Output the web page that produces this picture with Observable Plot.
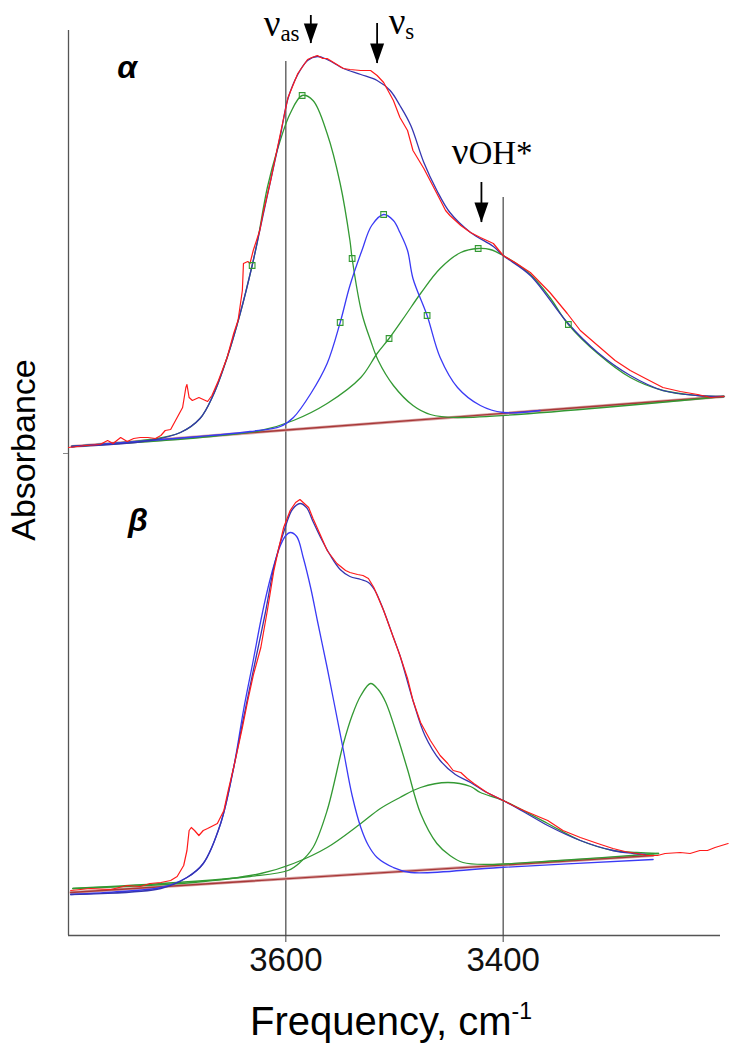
<!DOCTYPE html>
<html><head><meta charset="utf-8">
<script src="https://cdn.jsdelivr.net/npm/d3@7"></script>
<script src="https://cdn.jsdelivr.net/npm/@observablehq/plot@0.6"></script>
<style>body{margin:0;background:#fff}</style>
</head><body><div id="chart"></div>
<script>
// ---------- data: [frequency cm-1, absorbance (arb.)] ----------
const xTicks = [3600, 3400];
const yTicks = [4.82];
const refLines = [{f: 3600, bottom: 0, top: 8.74}, {f: 3400, bottom: 0, top: 7.38}];

// alpha panel
const alphaBaseline = [[3797, 4.89], [3197, 5.39]];
const alphaMeasured = [[3800,4.88],[3784,4.90],[3771,4.91],[3764,4.95],[3759,4.92],[3752,4.98],[3746,4.94],[3740,4.97],[3734,4.98],[3727,4.98],[3720,4.97],[3715,5.00],[3711,5.05],[3706,5.06],[3700,5.18],[3695,5.28],[3692,5.48],[3691,5.51],[3689,5.38],[3686,5.35],[3680,5.38],[3672,5.34],[3668,5.40],[3662,5.55],[3654,5.78],[3648,6.02],[3644,6.15],[3640,6.45],[3639,6.72],[3635,6.74],[3633,6.72],[3630,6.85],[3624,7.05],[3621,7.22],[3614,7.55],[3605,8.02],[3598,8.38],[3589,8.62],[3580,8.76],[3576,8.78],[3571,8.80],[3566,8.77],[3562,8.77],[3556,8.73],[3547,8.67],[3541,8.66],[3531,8.65],[3522,8.65],[3516,8.60],[3510,8.53],[3501,8.35],[3495,8.18],[3488,8.05],[3483,7.85],[3473,7.67],[3461,7.42],[3453,7.25],[3449,7.20],[3439,7.10],[3430,7.03],[3421,6.98],[3409,6.92],[3400,6.80],[3389,6.73],[3375,6.63],[3357,6.43],[3341,6.22],[3329,6.05],[3313,5.90],[3297,5.75],[3283,5.65],[3269,5.57],[3253,5.48],[3237,5.44],[3221,5.41],[3209,5.38],[3197,5.39]];
const alphaFit = [[3797,4.89],[3725,4.95],[3697,5.03],[3679,5.17],[3667,5.40],[3654,5.78],[3642,6.22],[3631,6.70],[3624,7.05],[3614,7.55],[3605,8.00],[3598,8.37],[3589,8.61],[3580,8.75],[3571,8.79],[3562,8.76],[3547,8.67],[3531,8.61],[3516,8.55],[3504,8.45],[3495,8.30],[3485,8.10],[3473,7.73],[3461,7.45],[3449,7.23],[3430,7.03],[3409,6.89],[3400,6.80],[3375,6.60],[3341,6.13],[3313,5.83],[3283,5.60],[3253,5.45],[3221,5.40],[3197,5.39]];
const alphaBand1 = [[3797,4.89],[3725,4.96],[3697,5.03],[3679,5.17],[3667,5.40],[3654,5.78],[3642,6.22],[3631,6.70],[3626,6.95],[3617,7.48],[3608,7.85],[3596,8.22],[3585,8.40],[3575,8.35],[3562,8.02],[3550,7.52],[3541,6.95],[3539,6.77],[3530,6.22],[3522,5.95],[3515,5.75],[3501,5.50],[3483,5.30],[3467,5.21],[3442,5.18],[3197,5.39]];
const alphaBand2 = [[3797,4.89],[3679,4.99],[3633,5.04],[3605,5.09],[3593,5.18],[3577,5.42],[3562,5.72],[3550,6.13],[3541,6.50],[3530,6.85],[3521,7.10],[3510,7.21],[3501,7.15],[3495,7.03],[3488,6.85],[3483,6.57],[3470,6.20],[3458,5.78],[3442,5.48],[3421,5.30],[3400,5.23],[3366,5.25]];
const alphaBand3 = [[3797,4.89],[3725,4.94],[3669,4.99],[3623,5.05],[3593,5.15],[3562,5.32],[3531,5.58],[3516,5.82],[3505,5.97],[3490,6.20],[3476,6.42],[3458,6.67],[3439,6.83],[3423,6.87],[3412,6.86],[3400,6.80],[3375,6.61],[3357,6.38],[3340,6.11],[3313,5.82],[3283,5.58],[3253,5.45],[3221,5.40],[3197,5.39]];
const alphaMarkers = [[3585,8.40],[3631,6.70],[3539,6.77],[3510,7.21],[3550,6.13],[3470,6.20],[3423,6.87],[3505,5.97],[3340,6.11]];

// beta panel
const betaBaseline = [[3798, 0.43], [3262, 0.80]];
const betaMeasured = [[3798,0.45],[3780,0.47],[3761,0.46],[3746,0.50],[3734,0.49],[3725,0.52],[3715,0.53],[3706,0.55],[3700,0.59],[3694,0.70],[3691,0.85],[3689,1.05],[3687,1.08],[3684,1.05],[3680,1.00],[3676,1.05],[3672,1.07],[3663,1.12],[3657,1.25],[3653,1.45],[3648,1.68],[3640,2.08],[3635,2.35],[3630,2.60],[3623,2.88],[3617,3.25],[3611,3.65],[3607,3.85],[3602,4.08],[3596,4.25],[3591,4.33],[3587,4.36],[3583,4.32],[3579,4.28],[3575,4.17],[3568,4.00],[3562,3.85],[3553,3.72],[3545,3.65],[3541,3.63],[3534,3.61],[3529,3.60],[3524,3.57],[3519,3.48],[3510,3.25],[3501,2.98],[3495,2.80],[3488,2.57],[3483,2.35],[3476,2.13],[3467,1.95],[3458,1.80],[3451,1.72],[3446,1.65],[3439,1.63],[3433,1.57],[3427,1.52],[3415,1.43],[3400,1.35],[3389,1.29],[3381,1.25],[3370,1.20],[3359,1.15],[3345,1.05],[3329,0.98],[3313,0.92],[3299,0.87],[3288,0.84],[3277,0.82],[3267,0.80],[3258,0.80],[3251,0.82],[3237,0.83],[3228,0.82],[3219,0.85],[3212,0.85],[3205,0.88],[3193,0.92]];
const betaFit = [[3798,0.41],[3715,0.47],[3691,0.58],[3676,0.72],[3660,1.12],[3648,1.68],[3639,2.17],[3628,2.75],[3619,3.22],[3610,3.73],[3600,4.10],[3594,4.26],[3587,4.32],[3581,4.28],[3575,4.14],[3568,3.98],[3559,3.80],[3550,3.66],[3541,3.59],[3531,3.56],[3524,3.53],[3518,3.45],[3510,3.25],[3501,2.98],[3495,2.80],[3483,2.35],[3472,2.00],[3458,1.75],[3444,1.61],[3430,1.53],[3415,1.43],[3400,1.35],[3380,1.23],[3359,1.10],[3329,0.95],[3299,0.85],[3280,0.82],[3269,0.81]];
const betaBand1 = [[3798,0.41],[3752,0.44],[3715,0.48],[3691,0.58],[3676,0.72],[3660,1.12],[3648,1.68],[3639,2.25],[3630,2.75],[3623,3.15],[3617,3.45],[3611,3.70],[3605,3.90],[3600,4.00],[3596,4.03],[3590,3.99],[3584,3.78],[3577,3.47],[3571,3.15],[3562,2.68],[3556,2.35],[3547,1.85],[3539,1.40],[3531,1.08],[3524,0.90],[3516,0.78],[3501,0.68],[3485,0.63],[3403,0.68],[3262,0.76]];
const betaBand2 = [[3796,0.47],[3700,0.53],[3633,0.59],[3598,0.65],[3587,0.73],[3575,0.88],[3562,1.25],[3547,1.92],[3539,2.20],[3531,2.40],[3522,2.52],[3515,2.46],[3508,2.33],[3497,1.98],[3488,1.66],[3476,1.22],[3461,0.92],[3449,0.80],[3437,0.73],[3415,0.71],[3348,0.75],[3257,0.82]];
const betaBand3 = [[3796,0.47],[3685,0.53],[3623,0.62],[3593,0.72],[3562,0.88],[3531,1.12],[3513,1.27],[3495,1.38],[3476,1.48],[3451,1.53],[3430,1.49],[3421,1.43],[3400,1.35],[3359,1.12],[3329,0.95],[3299,0.85],[3277,0.83],[3257,0.82]];

// annotations
const panelLabels = [{text: "α", f: 3746, a: 8.58}, {text: "β", f: 3736, a: 4.05}];
const nuLabels = [{text: "ν", f: 3605, a: 9.00}, {text: "ν", f: 3490, a: 9.02}, {text: "ν", f: 3432, a: 7.72}];
const nuSubs = [{text: "as", f: 3605, a: 8.95}, {text: "s", f: 3490, a: 8.97}];
const ohLabel = [{text: "OH*", f: 3432, a: 7.72}];
const arrows = [{f: 3577, top: 9.20, tip: 8.92}, {f: 3516, top: 9.12, tip: 8.72}, {f: 3420, top: 7.53, tip: 7.13}];

// ---------- drawing ----------
const RED = "#ff1a1a", FIT = "#3535b0", BLUE = "#3a3af5", GREEN = "#339933", BROWN = "#a83838";
const px = d => d[0], py = d => d[1];
const arrowHead = {draw(ctx) { ctx.moveTo(-7, -20); ctx.lineTo(7, -20); ctx.lineTo(0, 0); ctx.closePath(); }};
const smooth = "catmull-rom";
const serif = "Liberation Serif, Times New Roman, serif";

const chart = Plot.plot({
  width: 742, height: 1050,
  marginLeft: 68, marginRight: 22, marginTop: 30, marginBottom: 115,
  style: {fontFamily: "Liberation Sans, Arial, sans-serif", background: "#fff", color: "#111"},
  x: {domain: [3800, 3200]},
  y: {domain: [0, 9.05]},
  marks: [
    Plot.ruleX(refLines, {x: "f", y1: "bottom", y2: "top", stroke: "#444", strokeWidth: 1.2}),
    Plot.ruleX([3800], {stroke: "#555", strokeWidth: 1.3}),
    Plot.ruleY([0], {stroke: "#555", strokeWidth: 1.3}),
    Plot.axisX({ticks: xTicks, tickSize: 7, tickPadding: 5, fontSize: 33, label: null, tickFormat: d => `${d}`, stroke: "#444"}),
    Plot.axisY({ticks: yTicks, tickSize: 5, tickFormat: () => "", label: null, stroke: "#888"}),
    // baselines
    Plot.line(alphaBaseline, {x: px, y: py, stroke: "#d9a5a5", strokeWidth: 3}),
    Plot.line(alphaBaseline, {x: px, y: py, stroke: BROWN, strokeWidth: 1.4}),
    Plot.line(betaBaseline, {x: px, y: py, stroke: "#d9a5a5", strokeWidth: 3}),
    Plot.line(betaBaseline, {x: px, y: py, stroke: BROWN, strokeWidth: 1.4}),
    // alpha components
    Plot.line(alphaBand1, {x: px, y: py, stroke: GREEN, strokeWidth: 1.3, curve: smooth}),
    Plot.line(alphaBand3, {x: px, y: py, stroke: GREEN, strokeWidth: 1.3, curve: smooth}),
    Plot.line(alphaBand2, {x: px, y: py, stroke: BLUE, strokeWidth: 1.3, curve: smooth}),
    Plot.line(alphaFit, {x: px, y: py, stroke: FIT, strokeWidth: 1.3, curve: smooth}),
    Plot.line(alphaMeasured, {x: px, y: py, stroke: RED, strokeWidth: 1.2}),
    Plot.dot(alphaMarkers, {x: px, y: py, symbol: "square", r: 3.2, stroke: GREEN, fill: "none", strokeWidth: 1.1}),
    // beta components
    Plot.line(betaBand2, {x: px, y: py, stroke: GREEN, strokeWidth: 1.3, curve: smooth}),
    Plot.line(betaBand3, {x: px, y: py, stroke: GREEN, strokeWidth: 1.3, curve: smooth}),
    Plot.line(betaBand1, {x: px, y: py, stroke: BLUE, strokeWidth: 1.3, curve: smooth}),
    Plot.line(betaFit, {x: px, y: py, stroke: FIT, strokeWidth: 1.3, curve: smooth}),
    Plot.line(betaMeasured, {x: px, y: py, stroke: RED, strokeWidth: 1.2}),
    // annotations
    Plot.text(panelLabels, {x: "f", y: "a", text: "text", fontSize: 32, fontWeight: "bold", fontStyle: "italic", lineAnchor: "bottom", fill: "#000"}),
    Plot.text(nuLabels, {x: "f", y: "a", text: "text", fontSize: 37, fontFamily: serif, textAnchor: "end", lineAnchor: "bottom", fill: "#000"}),
    Plot.text(nuSubs, {x: "f", y: "a", text: "text", fontSize: 23, fontFamily: serif, textAnchor: "start", lineAnchor: "bottom", fill: "#000"}),
    Plot.text(ohLabel, {x: "f", y: "a", text: "text", fontSize: 33, fontFamily: serif, textAnchor: "start", lineAnchor: "bottom", fill: "#000"}),
    Plot.ruleX(arrows, {x: "f", y1: "top", y2: "tip", stroke: "#000", strokeWidth: 1.8}),
    Plot.dot(arrows, {x: "f", y: "tip", symbol: arrowHead, fill: "#000", stroke: "none"})
  ]
});
document.getElementById("chart").appendChild(chart);

// axis titles
const svg = d3.select(chart);
const xt = svg.append("text").attr("x", 391).attr("y", 1035).attr("text-anchor", "middle")
  .attr("fill", "#000").style("font-size", "40px").style("font-family", "Liberation Sans, Arial, sans-serif");
xt.append("tspan").text("Frequency, cm");
xt.append("tspan").attr("dy", -16).style("font-size", "23px").text("-1");
svg.append("text").attr("transform", "translate(35,450) rotate(-90)").attr("text-anchor", "middle")
  .attr("fill", "#000").style("font-size", "34px").style("font-family", "Liberation Sans, Arial, sans-serif")
  .text("Absorbance");
</script>
</body></html>
